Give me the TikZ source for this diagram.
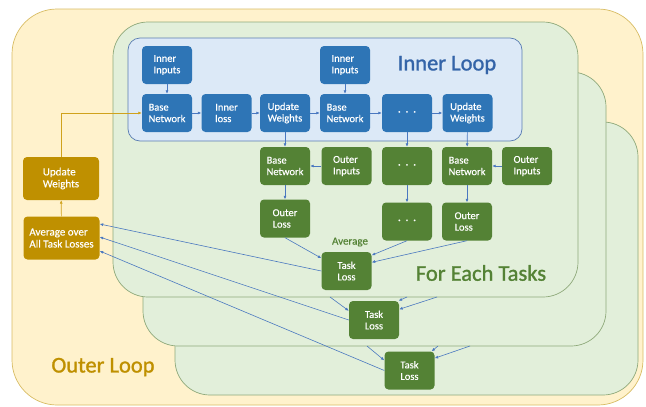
\documentclass[tikz,border=0pt]{standalone}
\usepackage{fontspec}
\setmainfont{Carlito}
\newfontfamily\titlefont[FakeBold=1.2]{Carlito}
\newfontfamily\boxfont[FakeBold=0.4]{Carlito}
\usetikzlibrary{arrows.meta}

\definecolor{nodeblue}{HTML}{2E75B6}
\definecolor{nodegreen}{HTML}{548235}
\definecolor{nodegold}{HTML}{BF9000}
\definecolor{linkblue}{HTML}{4A78C0}
\definecolor{linkgold}{HTML}{D0A21C}
\definecolor{outerfill}{HTML}{FFF2CC}
\definecolor{outerline}{HTML}{D8BC64}
\definecolor{taskfill}{HTML}{E2EFDA}
\definecolor{taskline}{HTML}{8FA97A}
\definecolor{innerfill}{HTML}{DCE9F7}
\definecolor{innerline}{HTML}{5A7DB2}
\definecolor{innertext}{HTML}{3464A8}

\newcommand{\stepdots}{·\hspace{5pt}·\hspace{5pt}·}

\begin{document}
\begin{tikzpicture}[x=1pt,y=-1pt,
    box/.style={rounded corners=4pt, minimum width=50pt, minimum height=38pt,
        inner sep=1pt, align=left, text=white, font=\boxfont\fontsize{10.5}{11.5}\selectfont},
    bluebox/.style={box, fill=nodeblue},
    greenbox/.style={box, fill=nodegreen},
    goldbox/.style={box, fill=nodegold, minimum width=76pt, minimum height=43pt,
        font=\boxfont\fontsize{11}{12}\selectfont},
    flow/.style={-{Latex[length=3.5pt,width=3pt]}, draw=linkblue, line width=0.6pt},
    goldflow/.style={flow, draw=linkgold},
    taskpanel/.style={fill=taskfill, draw=taskline, line width=0.7pt, rounded corners=35pt},
    title/.style={font=\titlefont\fontsize{22.5}{24}\selectfont}]

    \useasboundingbox (0,0) rectangle (646,407);

    % Outer loop background
    \draw[fill=outerfill, draw=outerline, line width=0.7pt, rounded corners=45pt]
        (12,9) rectangle (643,405);

    % Task panels, back to front
    \draw[taskpanel] (175,122) rectangle (638,395);
    \draw[taskpanel] (143,72) rectangle (606,346);
    \draw[taskpanel] (113,22) rectangle (578,297);

    % Inner loop
    \draw[fill=innerfill, draw=innerline, line width=0.7pt, rounded corners=12pt]
        (128,38) rectangle (522,141);

    % Titles
    \node[title, text=innertext] (tinner) at (447,65) {Inner Loop};
    \node[title, text=nodegreen] (ttask) at (481,273) {For Each Tasks};
    \node[title, text=nodegold] (touter) at (103,367) {Outer Loop};
    \node[text=nodegreen, font=\boxfont\fontsize{11}{12}\selectfont] (tavg) at (350,242) {Average};

    % Inner loop nodes
    \node[bluebox] (iin1) at (167,65) {Inner\\Inputs};
    \node[bluebox] (bn1) at (167,113) {Base\\Network};
    \node[bluebox] (iloss) at (226.5,113) {Inner\\loss};
    \node[bluebox] (uw1) at (285,113) {Update\\Weights};
    \node[bluebox] (iin2) at (345,65) {Inner\\Inputs};
    \node[bluebox] (bn2) at (345,113) {Base\\Network};
    \node[bluebox] (idots) at (407,113) {\stepdots};
    \node[bluebox] (uw2) at (467.5,113) {Update\\Weights};

    % Outer step nodes
    \node[greenbox] (gbn1) at (285,166) {Base\\Network};
    \node[greenbox] (goin1) at (346.5,166) {Outer\\Inputs};
    \node[greenbox] (gdots1) at (407,166) {\stepdots};
    \node[greenbox] (gbn2) at (467,166) {Base\\Network};
    \node[greenbox] (goin2) at (527,166) {Outer\\Inputs};
    \node[greenbox] (gol1) at (285,218.5) {Outer\\Loss};
    \node[greenbox] (gdots2) at (407,221.5) {\stepdots};
    \node[greenbox] (gol2) at (467,221.5) {Outer\\Loss};

    % Task losses
    \node[greenbox] (tl1) at (346.5,271) {Task\\Loss};
    \node[greenbox] (tl2) at (374,320) {Task\\Loss};
    \node[greenbox] (tl3) at (409.5,370.5) {Task\\Loss};

    % Meta update nodes
    \node[goldbox] (guw) at (61,178.5) {Update\\Weights};
    \node[goldbox] (gavg) at (61.5,238) {Average over\\All Task Losses};

    % Free ends on the panel edges
    \coordinate (ta2) at (330,297);
    \coordinate (tb2) at (407,297);
    \coordinate (tc2) at (437,297);
    \coordinate (ta3) at (367,346);
    \coordinate (tb3) at (438,346);
    \coordinate (tc3) at (470,346);

    % Inner loop connectors
    \draw[flow] (iin1) -- (bn1);
    \draw[flow] (iin2) -- (bn2);
    \draw[flow] (bn1) -- (iloss);
    \draw[flow] (iloss) -- (uw1);
    \draw[flow] (uw1) -- (bn2);
    \draw[flow] (bn2) -- (idots);
    \draw[flow] (idots) -- (uw2);

    % Outer step connectors
    \draw[flow] (uw1) -- (gbn1);
    \draw[flow] (idots) -- (gdots1);
    \draw[flow] (uw2) -- (gbn2);
    \draw[flow] (goin1) -- (gbn1);
    \draw[flow] (goin2) -- (gbn2);
    \draw[flow] (gbn1) -- (gol1);
    \draw[flow] (gdots1) -- (gdots2);
    \draw[flow] (gbn2) -- (gol2);
    \draw[flow] (gol1.south) -- (tl1.153);
    \draw[flow] (gdots2.south) -- (tl1.32);
    \draw[flow] (gol2.south) -- (tl1.19);
    \draw[flow] (ta2) -- (tl2.160);
    \draw[flow] (tb2) -- (tl2.38);
    \draw[flow] (tc2) -- (tl2.23);
    \draw[flow] (ta3) -- (tl3.158);
    \draw[flow] (tb3) -- (tl3.41);
    \draw[flow] (tc3) -- (tl3.26);

    % Task losses to the average
    \draw[flow] (tl1.west) -- ([yshift=14pt]gavg.east);
    \draw[flow] (tl2.west) -- ([yshift=1pt]gavg.east);
    \draw[flow] (tl3.west) -- ([yshift=-13pt]gavg.east);

    % Meta update
    \draw[goldflow] (gavg) -- (guw);
    \draw[goldflow] (guw.north) |- (bn1.west);
\end{tikzpicture}
\end{document}
